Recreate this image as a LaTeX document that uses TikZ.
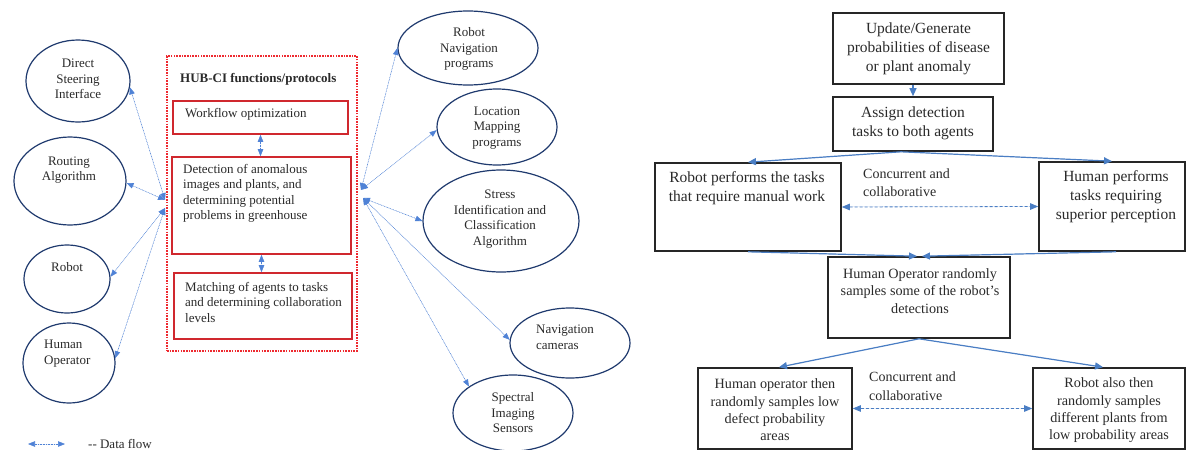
\documentclass[tikz,border=0pt]{standalone}
\usepackage{fontspec}
\setmainfont{Liberation Serif}
\usetikzlibrary{shapes.geometric,arrows.meta}
\definecolor{navy}{HTML}{1F3A6E}
\definecolor{hubred}{HTML}{D0282E}
\definecolor{dashred}{HTML}{EE2A30}
\definecolor{flowblue}{HTML}{4A7EC4}
\definecolor{dotblue}{HTML}{4F82D6}
\definecolor{txtgray}{HTML}{2A2A2A}
\begin{document}
\begin{tikzpicture}[x=1pt,y=-1pt,
  ell/.style={ellipse,draw=navy,line width=1.2pt,inner sep=0pt},
  ltxt/.style={inner sep=0pt,align=center,text=txtgray,font=\fontsize{13}{15.5}\selectfont},
  ltxtl/.style={inner sep=0pt,align=left,text=txtgray,font=\fontsize{13}{15.5}\selectfont},
  redbox/.style={draw=hubred,line width=1.6pt,inner sep=0pt},
  blkbox/.style={draw=black!85,line width=1.6pt,inner sep=0pt},
  rtxt/.style={inner sep=0pt,align=center,text=txtgray,font=\fontsize{15.5}{19}\selectfont},
  rtxts/.style={inner sep=0pt,align=center,text=txtgray,font=\fontsize{14.2}{17.4}\selectfont},
  ctxt/.style={inner sep=0pt,align=left,text=txtgray,font=\fontsize{14}{18.5}\selectfont},
  dflow/.style={draw=dotblue,line width=0.6pt,densely dotted,
     {Triangle[length=7pt,width=5.5pt]}-{Triangle[length=7pt,width=5.5pt]},fill=dotblue},
  flow/.style={draw=flowblue,line width=1.2pt,-{Triangle[length=8pt,width=7pt]},fill=flowblue},
  cflow/.style={draw=flowblue,line width=0.8pt,densely dashed,
     {Triangle[length=8pt,width=6.5pt]}-{Triangle[length=8pt,width=6.5pt]},fill=flowblue}
]
\useasboundingbox (0,0) rectangle (1187,450);
\fill[white] (0,0) rectangle (1187,450);

% ---------- left diagram ----------
\node[draw=dashred,line width=1.1pt,dash pattern=on 1.6pt off 1.1pt,minimum width=190pt,minimum height=295pt,inner sep=0pt] (hub) at (262,203.5) {};
\node[inner sep=0pt,anchor=west,text=txtgray,font=\fontsize{13}{15.5}\selectfont\bfseries] (title) at (180,79) {HUB-CI functions/protocols};

\node[redbox,minimum width=175pt,minimum height=33pt] (wf) at (260.5,117.5) {};
\node[ltxtl,anchor=west] (wfT) at (185,114) {Workflow optimization};
\node[redbox,minimum width=179pt,minimum height=97pt] (det) at (261.5,205.5) {};
\node[ltxtl,anchor=west] (detT) at (183,193.5) {Detection of anomalous\\images and plants, and\\determining potential\\problems in greenhouse};
\node[redbox,minimum width=178pt,minimum height=66pt] (mat) at (263,306) {};
\node[ltxtl,anchor=west] (matT) at (185,302) {Matching of agents to tasks\\and determining collaboration\\levels};

\draw[dflow] (wf.south) -- (wf.south |- det.north);
\draw[dflow] (det.south) -- (det.south |- mat.north);

\node[ell,minimum width=104pt,minimum height=82pt] (dsi) at (78,81) {};
\node[ltxt] (dsiT) at (78,79) {Direct\\Steering\\Interface};
\node[ell,minimum width=112pt,minimum height=88pt] (ra) at (70,181) {};
\node[ltxt] (raT) at (69,170) {Routing\\Algorithm};
\node[ell,minimum width=86pt,minimum height=68pt] (rob) at (67,279) {};
\node[ltxt] (robT) at (67,267) {Robot};
\node[ell,minimum width=92pt,minimum height=80pt] (ho) at (69,363) {};
\node[ltxtl,anchor=west] (hoT) at (44,353.5) {Human\\Operator};

\coordinate (hl1) at (165,200);
\coordinate (hl2) at (165,208);
\draw[dflow] (hl1) -- (dsi.-7);
\draw[dflow] (hl1) -- (ra.-2);
\draw[dflow] (hl2) -- (rob.3);
\draw[dflow] (hl2) -- (ho.6);

\node[ell,minimum width=140pt,minimum height=74pt] (rnp) at (468,48) {};
\node[ltxt] (rnpT) at (469,49) {Robot\\Navigation\\programs};
\node[ell,minimum width=120pt,minimum height=76pt] (lmp) at (497,127) {};
\node[ltxt] (lmpT) at (497,128) {Location\\Mapping\\programs};
\node[ell,minimum width=156pt,minimum height=102pt] (sic) at (501,221) {};
\node[ltxt] (sicT) at (500,219) {Stress\\Identification and\\Classification\\Algorithm};
\node[ell,minimum width=120pt,minimum height=70pt] (nc) at (570,343) {};
\node[ltxtl,anchor=west] (ncT) at (536,337.5) {Navigation\\cameras};
\node[ell,minimum width=120pt,minimum height=76pt] (sis) at (513,413) {};
\node[ltxt] (sisT) at (513,413) {Spectral\\Imaging\\Sensors};

\coordinate (hr1) at (361,190);
\coordinate (hr2) at (363,198);
\draw[dflow] (hr1) -- (rnp.180);
\draw[dflow] (hr1) -- (lmp.183);
\draw[dflow] (hr2) -- (sic.180);
\draw[dflow] (hr2) -- (nc.177);
\draw[dflow] (hr2) -- (sis.149);

\coordinate (lg1) at (28,444);
\coordinate (lg2) at (65,444);
\draw[dflow] (lg1) -- (lg2);
\node[ltxtl,anchor=west] (lgT) at (88,444) {-{}- Data flow};

% ---------- right flowchart ----------
\node[blkbox,minimum width=171pt,minimum height=71pt] (upd) at (918.5,48.5) {};
\node[rtxt] (updT) at (918.5,49) {Update/Generate\\probabilities of disease\\or plant anomaly};
\node[blkbox,minimum width=160pt,minimum height=54pt] (asg) at (913,124) {};
\node[rtxt] (asgT) at (913,123) {Assign detection\\tasks to both agents};
\node[blkbox,minimum width=186pt,minimum height=88pt] (rbx) at (748,207) {};
\node[rtxt] (rbxT) at (747,188.5) {Robot performs the tasks\\that require manual work};
\node[blkbox,minimum width=146pt,minimum height=89pt] (hum) at (1112,206.5) {};
\node[rtxt] (humT) at (1116,197) {Human performs\\tasks requiring\\superior perception};
\node[ctxt,anchor=west] (c1) at (863,182.5) {Concurrent and\\collaborative};
\node[blkbox,minimum width=182pt,minimum height=81pt] (hor) at (919,297.5) {};
\node[rtxts] (horT) at (920,291) {Human Operator randomly\\samples some of the robot’s\\detections};
\node[blkbox,minimum width=154pt,minimum height=81pt] (bl) at (775,408.5) {};
\node[rtxts] (blT) at (775,410) {Human operator then\\randomly samples low\\defect probability\\areas};
\node[blkbox,minimum width=152pt,minimum height=81pt] (br) at (1109,408.5) {};
\node[rtxts] (brT) at (1109,410.5) {Robot also then\\randomly samples\\different plants from\\low probability areas};
\node[ctxt,anchor=west] (c2) at (869,386) {Concurrent and\\collaborative};

\draw[flow] (asg.north |- upd.south) -- (asg.north);
\draw[flow] ([xshift=-12pt]asg.south) -- (rbx.north);
\draw[flow] ([xshift=-12pt]asg.south) -- (hum.north);
\draw[flow] (rbx.south) -- ([xshift=-2pt]hor.north);
\draw[flow] ([xshift=4pt]hum.south) -- ([xshift=3pt]hor.north);
\draw[flow] (hor.south) -- ([xshift=4pt]bl.north);
\draw[flow] (hor.south) -- ([xshift=-6pt]br.north);
\draw[cflow] (rbx.east) -- (hum.west);
\draw[cflow] (bl.east) -- (br.west);
\end{tikzpicture}
\end{document}
